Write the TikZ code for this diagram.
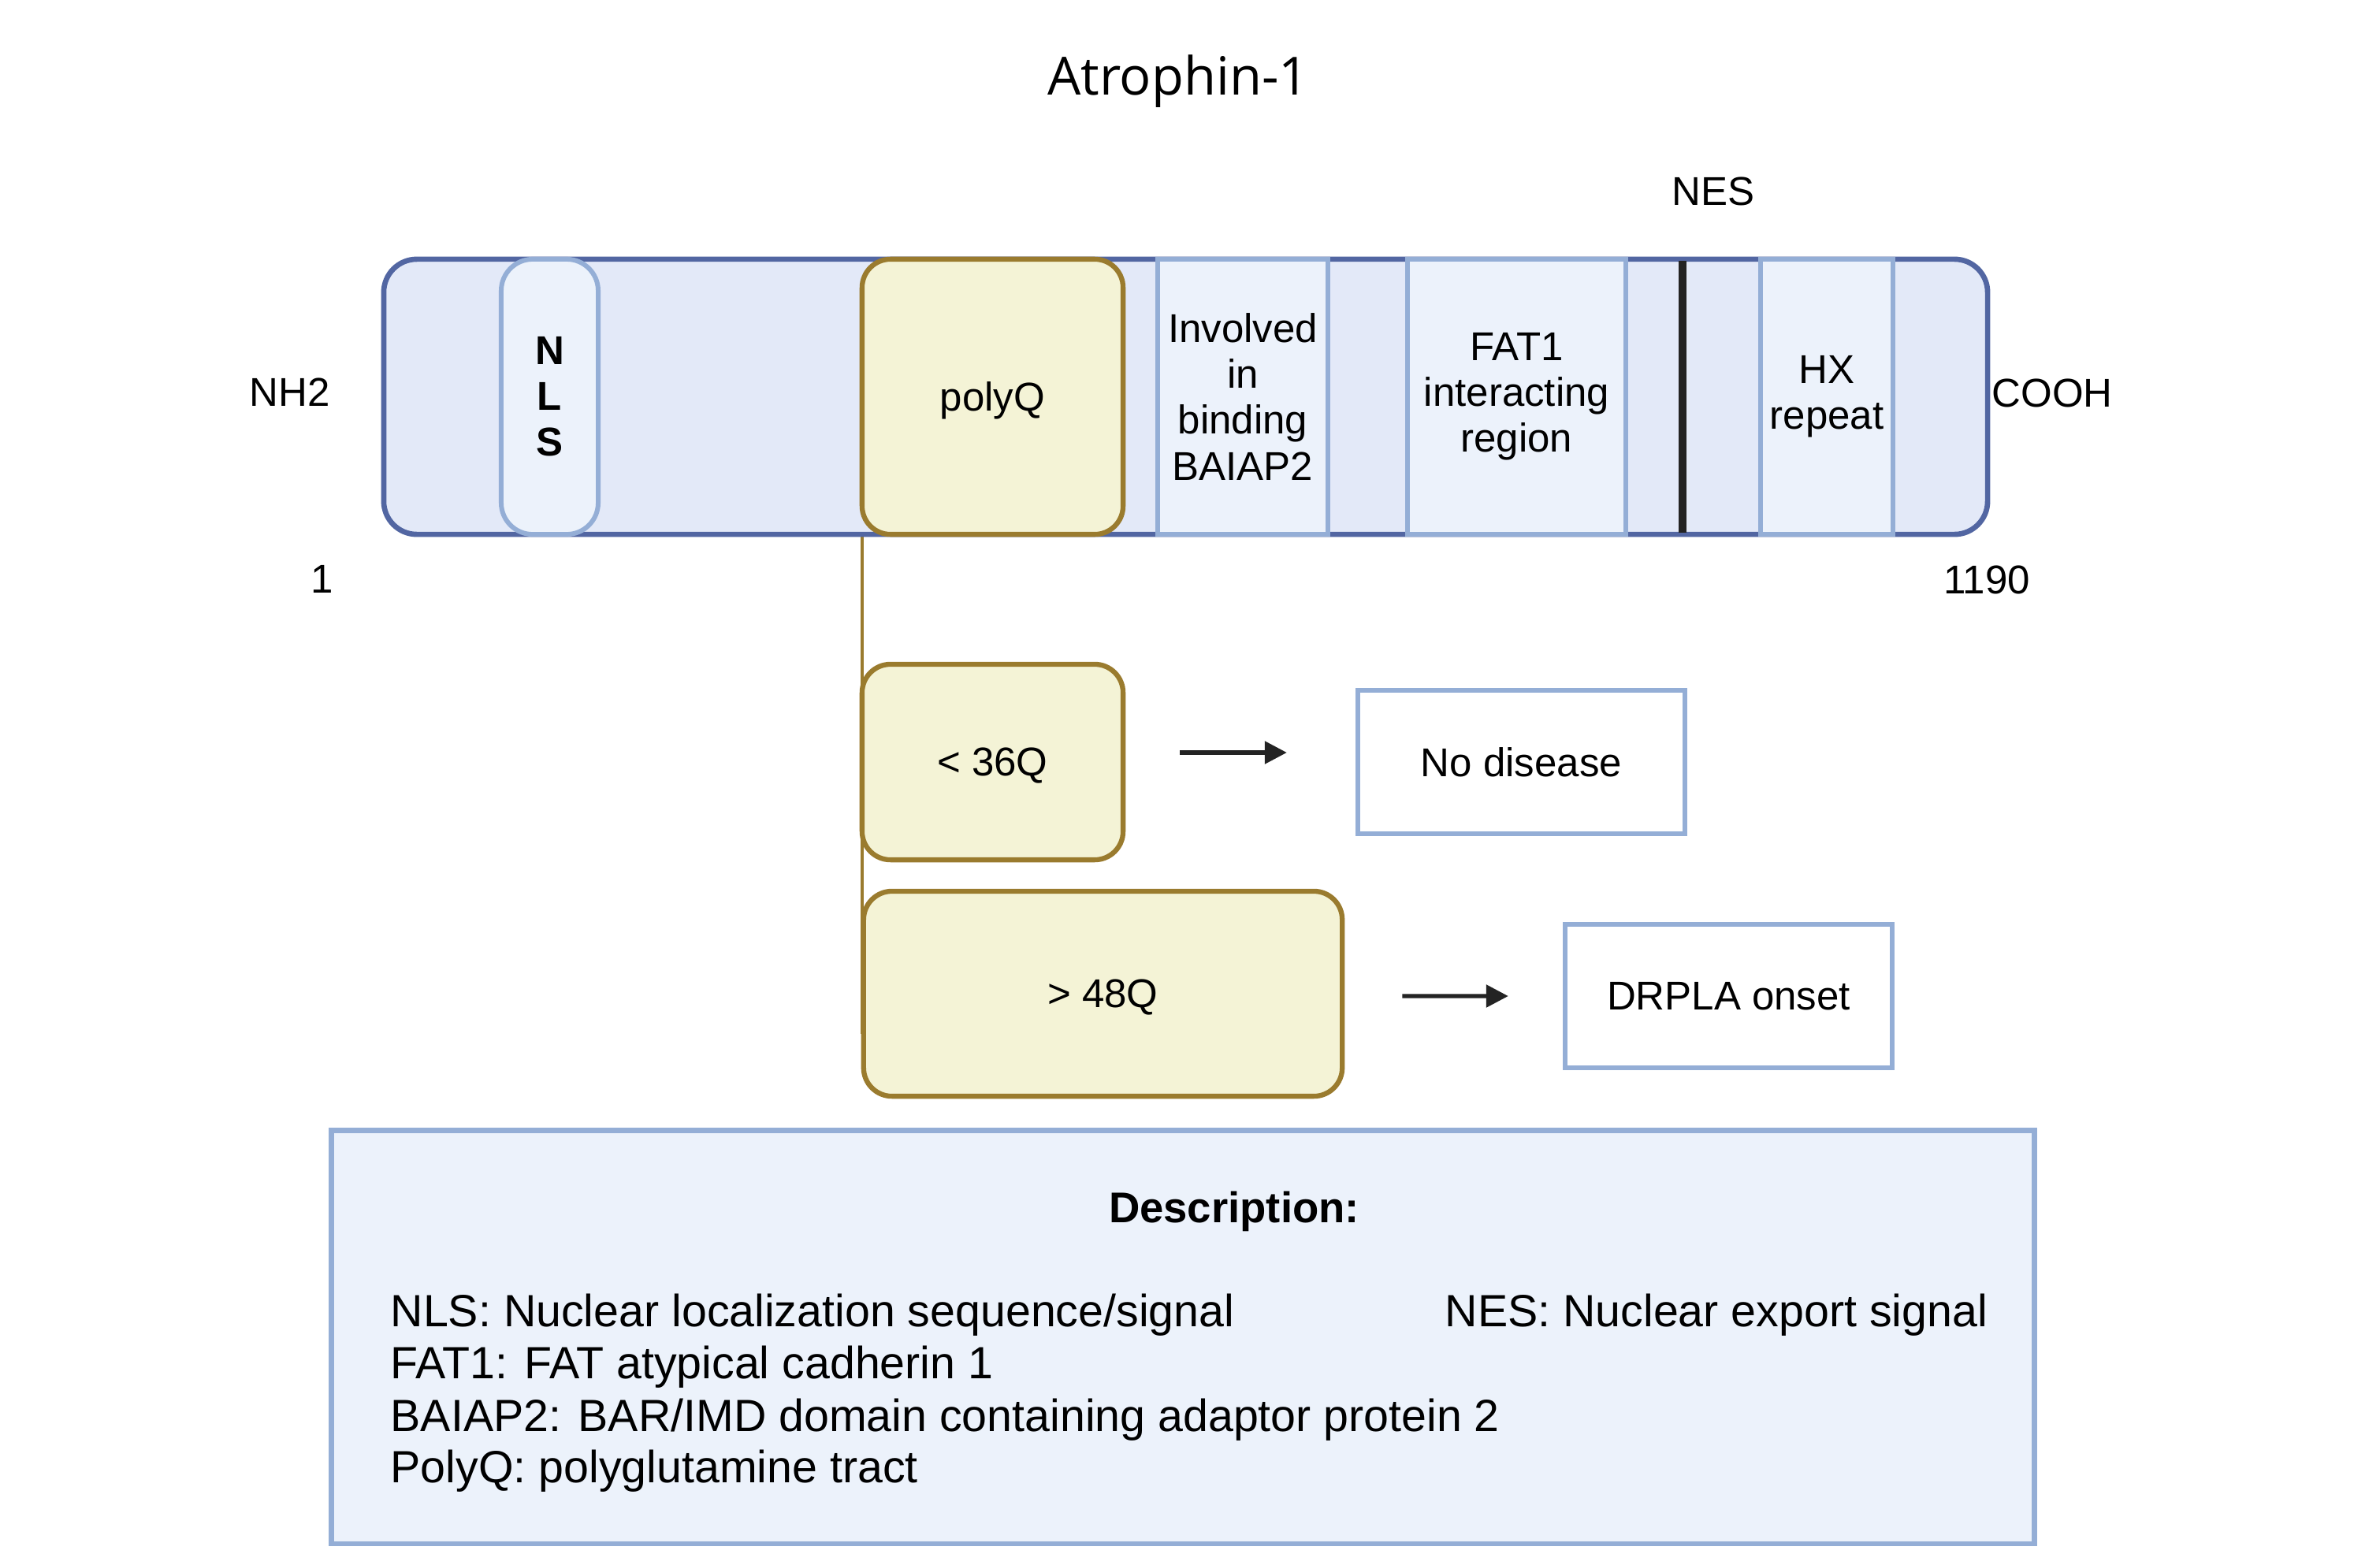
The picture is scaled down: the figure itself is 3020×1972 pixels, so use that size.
\documentclass[tikz,border=0pt]{standalone}
\usepackage{fontspec}
\setmainfont{Liberation Sans}
\newfontfamily\titlefont{Open Sans}
\usetikzlibrary{arrows.meta}

\definecolor{barfill}{HTML}{E3E9F8}
\definecolor{barline}{HTML}{5266A2}
\definecolor{domfill}{HTML}{ECF2FB}
\definecolor{domline}{HTML}{94AED6}
\definecolor{qfill}{HTML}{F4F3D6}
\definecolor{qline}{HTML}{9A7B2E}
\definecolor{nesline}{HTML}{232323}

\begin{document}
\begin{tikzpicture}[x=0.01cm, y=-0.01cm,
    lbl/.style={font=\fontsize{14.5}{17}\selectfont, inner sep=0pt},
    domainbox/.style={draw=domline, line width=1.7pt, fill=domfill, minimum height=3.49cm,
        align=center, font=\fontsize{14.5}{16.5}\selectfont, inner sep=0pt},
    qbox/.style={draw=qline, line width=1.8pt, fill=qfill, rounded corners=0.36cm,
        align=center, font=\fontsize{14.5}{17}\selectfont, inner sep=0pt, text depth=0pt},
    outcome/.style={draw=domline, line width=1.7pt, fill=white, minimum width=4.15cm,
        minimum height=1.82cm, font=\fontsize{14.5}{17}\selectfont, inner sep=0pt, text depth=0pt},
    desc/.style={font=\fontsize{16.3}{19}\selectfont, inner sep=0pt, anchor=base west},
    arr/.style={-{Triangle[length=0.28cm,width=0.28cm]}, line width=1.5pt, draw=nesline}]
    \useasboundingbox (0,0) rectangle (3020,1972);

    % title and end labels
    \node[inner sep=0pt, anchor=base] (title) at (1495,120) {\titlefont\fontsize{19}{22}\selectfont Atrophin-1};
    \node[lbl, anchor=base] (nh) at (368,515) {NH2};
    \node[lbl, anchor=base west] (cooh) at (2527,516) {COOH};
    \node[lbl, anchor=base] (first) at (409,752) {1};
    \node[lbl, anchor=base] (last) at (2521,753) {1190};
    \node[lbl, anchor=base] (neslbl) at (2174,260) {NES};

    % polyQ tract line behind the boxes
    \coordinate (qtop) at (1094,503);
    \coordinate (qend) at (1094,1312);
    \draw[qline, line width=1.1pt] (qtop) -- (qend);

    % protein bar
    \node[draw=barline, line width=1.9pt, fill=barfill, rounded corners=0.42cm,
        minimum width=20.34cm, minimum height=3.49cm] (bar) at (1504.5,503.5) {};
    \node[domainbox, rounded corners=0.4cm, minimum width=1.23cm, font=\fontsize{14.5}{16.5}\selectfont\bfseries] (nls) at (697.5,503.5) {N\\L\\S};
    \node[qbox, minimum width=3.31cm, minimum height=3.49cm] (polyq) at (1259.5,503.5) {polyQ};
    \node[domainbox, minimum width=2.16cm] (baiap) at (1577,503.5) {Involved\\in\\binding\\BAIAP2};
    \node[domainbox, minimum width=2.77cm] (fat) at (1924.5,503.5) {FAT1\\interacting\\region};
    \coordinate (nestop) at (2135,331);
    \coordinate (nesbot) at (2135,676);
    \draw[nesline, line width=3.1pt] (nestop) -- (nesbot);
    \node[domainbox, minimum width=1.68cm] (hx) at (2318,503.5) {HX\\repeat};

    % repeat length outcomes
    \node[qbox, minimum width=3.31cm, minimum height=2.48cm] (lowq) at (1259.5,967) {< 36Q};
    \node[outcome] (nodis) at (1930.5,967) {No disease};
    \draw[arr, shorten <=0.69cm, shorten >=0.87cm] ([yshift=0.12cm]lowq.east) -- ([yshift=0.12cm]nodis.west);

    \node[qbox, minimum width=6.07cm, minimum height=2.6cm] (highq) at (1399.5,1261) {> 48Q};
    \node[outcome] (drpla) at (2193.5,1264) {DRPLA onset};
    \draw[arr, shorten <=0.73cm, shorten >=0.69cm] ([yshift=-0.03cm]highq.east) -- (drpla.west);

    % description panel
    \node[draw=domline, line width=1.8pt, fill=domfill, minimum width=21.6cm,
        minimum height=5.24cm] (descbox) at (1501,1696.5) {};
    \node[inner sep=0pt, anchor=base, font=\fontsize{15.5}{18}\selectfont\bfseries] (deschead) at (1566,1551) {Description:};
    \node[desc] (dnls) at (495,1683) {NLS: Nuclear localization sequence/signal};
    \node[desc] (dnes) at (1833,1683) {NES: Nuclear export signal};
    \node[desc] (dfat) at (495,1749) {FAT1: FAT atypical cadherin 1};
    \node[desc] (dbai) at (495,1816) {BAIAP2: BAR/IMD domain containing adaptor protein 2};
    \node[desc] (dpq) at (495,1881) {PolyQ: polyglutamine tract};
\end{tikzpicture}
\end{document}
